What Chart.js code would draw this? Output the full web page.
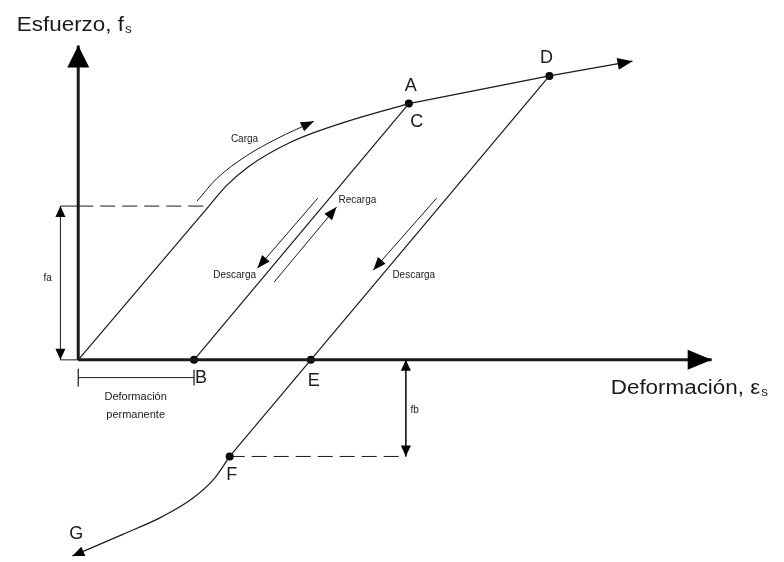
<!DOCTYPE html>
<html>
<head>
<meta charset="utf-8">
<script src="https://cdn.jsdelivr.net/npm/chart.js@4.4.1/dist/chart.umd.min.js"></script>
<style>
body { margin: 0; background: #fff; }
#wrap { width: 784px; height: 562px; }
</style>
</head>
<body>
<div id="wrap"><canvas id="myChart" width="784" height="562"></canvas></div>
<script>
// deformacion (x) y esfuerzo (y), origen en el cruce de los ejes
var ejeX = [[0, 0], [6.40, 0]];
var ejeY = [[0, 0], [0, 3.19]];
var tramoElastico = [[0, 0], [1.32, 1.56]];
var tramoCurvo = [[1.32, 1.56], [1.50, 1.77], [1.72, 1.96], [2.15, 2.21], [2.72, 2.42], [3.34, 2.60]];
var tramoFinal = [[3.34, 2.60], [4.76, 2.88], [5.60, 3.03]];
var descargaAB = [[3.34, 2.60], [1.17, 0]];
var descargaDF = [[4.76, 2.88], [2.35, 0], [1.53, -0.98]];
// ordenado de G a F (x creciente)
var compresionGF = [[-0.06, -1.99], [0.45, -1.77], [0.85, -1.59], [1.15, -1.41], [1.37, -1.21], [1.53, -0.98]];
var puntosX = [3.34, 1.17, 4.76, 2.35, 1.53];   // A, B, D, E, F
var puntosY = [2.60, 0, 2.88, 0, -0.98];
var fa = 1.56;
var fb = -0.98;

// flechas de recorrido
var flechaCarga = [[1.20, 1.61], [1.40, 1.84], [1.70, 2.07], [2.00, 2.24], [2.38, 2.42]];
var flechaDescarga1 = [[2.42, 1.64], [1.81, 0.93]];
var flechaRecarga = [[1.98, 0.79], [2.61, 1.55]];
var flechaDescarga2 = [[3.62, 1.64], [2.98, 0.91]];

var etiquetas = [
    {t: "Esfuerzo, f", s: "s", x: -0.62, y: 3.39, size: 20, align: "left", sx: 1.12},
    {t: "Deformación, ε", s: "s", x: 5.38, y: -0.29, size: 20, align: "left", sx: 1.12},
    {t: "A", x: 3.36, y: 2.78, size: 18},
    {t: "C", x: 3.42, y: 2.41, size: 18},
    {t: "D", x: 4.73, y: 3.06, size: 18},
    {t: "B", x: 1.24, y: -0.18, size: 18},
    {t: "E", x: 2.38, y: -0.21, size: 18},
    {t: "F", x: 1.55, y: -1.17, size: 18},
    {t: "G", x: -0.02, y: -1.77, size: 18},
    {t: "Carga", x: 1.68, y: 2.24, size: 10},
    {t: "Recarga", x: 2.82, y: 1.62, size: 10},
    {t: "Descarga", x: 1.58, y: 0.86, size: 10},
    {t: "Descarga", x: 3.39, y: 0.86, size: 10},
    {t: "fa", x: -0.31, y: 0.83, size: 10},
    {t: "fb", x: 3.40, y: -0.51, size: 10},
    {t: "Deformación", x: 0.58, y: -0.38, size: 11},
    {t: "permanente", x: 0.58, y: -0.56, size: 11}
];

function pts(a)
{
    return a.map(function(p) { return {x: p[0], y: p[1]}; });
}

function linea(a, ancho, extra)
{
    var d = {
        data: pts(a),
        borderColor: '#1a1a1a',
        borderWidth: ancho,
        pointRadius: 0,
        tension: 0,
        fill: false,
        clip: false
    };
    for (var k in extra) d[k] = extra[k];
    return d;
}

var curva = {tension: 0.4, cubicInterpolationMode: 'monotone'};
function conCurva(extra)
{
    var d = {tension: 0.4, cubicInterpolationMode: 'monotone'};
    for (var k in extra) d[k] = extra[k];
    return d;
}

var guion = [15, 7];
var datasets = [
    linea(ejeX, 3, {flechaFin: [24, 10]}),
    linea(ejeY, 3, {flechaFin: [22, 11]}),
    linea(tramoElastico, 1.2),
    linea(tramoCurvo, 1.2, curva),
    linea(tramoFinal, 1.2, {flechaFin: [15, 6]}),
    linea(descargaAB, 1.2),
    linea(descargaDF, 1.2),
    linea(compresionGF, 1.2, conCurva({flechaIni: [12, 5]})),
    linea(flechaCarga, 1, conCurva({flechaFin: [13, 5]})),
    linea(flechaDescarga1, 1, {flechaFin: [13, 5]}),
    linea(flechaRecarga, 1, {flechaFin: [13, 5]}),
    linea(flechaDescarga2, 1, {flechaFin: [13, 5]}),
    // cota fa
    linea([[-0.18, 0], [-0.18, fa]], 1, {flechaFin: [11, 5], flechaIni: [11, 5]}),
    linea([[-0.18, fa], [0, fa]], 1),
    linea([[-0.18, 0], [0, 0]], 1),
    linea([[0, fa], [1.32, fa]], 1, {borderDash: guion}),
    // cota fb
    linea([[3.31, 0], [3.31, fb]], 1, {flechaFin: [11, 5], flechaIni: [11, 5]}),
    linea([[1.53, fb], [3.31, fb]], 1, {borderDash: guion}),
    // deformacion permanente
    linea([[0, -0.18], [1.17, -0.18]], 1),
    linea([[0, -0.09], [0, -0.27]], 1.2),
    linea([[1.17, -0.10], [1.17, -0.26]], 1.2),
    {
        data: puntosX.map(function(v, i) { return {x: v, y: puntosY[i]}; }),
        showLine: false,
        pointRadius: 4,
        pointBackgroundColor: '#000',
        pointBorderWidth: 0,
        clip: false
    }
];

function punta(ctx, x, y, dx, dy, largo, ancho)
{
    var n = Math.sqrt(dx * dx + dy * dy);
    if (n == 0) return;
    dx /= n; dy /= n;
    var bx = x - dx * largo, by = y - dy * largo;
    ctx.beginPath();
    ctx.moveTo(x, y);
    ctx.lineTo(bx - dy * ancho, by + dx * ancho);
    ctx.lineTo(bx + dy * ancho, by - dx * ancho);
    ctx.closePath();
    ctx.fill();
}

var flechas = {
    id: 'flechas',
    afterDatasetsDraw: function(chart) {
        var ctx = chart.ctx;
        ctx.save();
        ctx.fillStyle = '#000';
        chart.data.datasets.forEach(function(ds, i) {
            var el = chart.getDatasetMeta(i).data;
            if (el.length < 2) return;
            if (ds.flechaFin) {
                var u = el[el.length - 1], p = el[el.length - 2];
                var ox = ds.tension && u.cp1x !== undefined ? u.cp1x : p.x;
                var oy = ds.tension && u.cp1y !== undefined ? u.cp1y : p.y;
                punta(ctx, u.x, u.y, u.x - ox, u.y - oy, ds.flechaFin[0], ds.flechaFin[1]);
            }
            if (ds.flechaIni) {
                var a = el[0], b = el[1];
                var qx = ds.tension && a.cp2x !== undefined ? a.cp2x : b.x;
                var qy = ds.tension && a.cp2y !== undefined ? a.cp2y : b.y;
                punta(ctx, a.x, a.y, a.x - qx, a.y - qy, ds.flechaIni[0], ds.flechaIni[1]);
            }
        });
        ctx.restore();
    }
};

var textos = {
    id: 'textos',
    afterDraw: function(chart) {
        var ctx = chart.ctx;
        var sx = chart.scales.x, sy = chart.scales.y;
        ctx.save();
        ctx.fillStyle = '#1a1a1a';
        ctx.textBaseline = 'middle';
        etiquetas.forEach(function(e) {
            var px = sx.getPixelForValue(e.x), py = sy.getPixelForValue(e.y);
            ctx.save();
            ctx.translate(px, py);
            ctx.scale(e.sx || 1, 1);
            ctx.font = e.size + 'px "Liberation Sans", Arial, sans-serif';
            ctx.textAlign = e.align || 'center';
            ctx.fillText(e.t, 0, 0);
            if (e.s) {
                var w = ctx.measureText(e.t).width;
                ctx.font = Math.round(e.size * 0.6) + 'px "Liberation Sans", Arial, sans-serif';
                ctx.textAlign = 'left';
                ctx.fillText(e.s, w + 1, e.size * 0.2);
            }
            ctx.restore();
        });
        ctx.restore();
    }
};

var myChart = new Chart(document.getElementById('myChart').getContext('2d'), {
    type: 'line',
    data: {datasets: datasets},
    options: {
        responsive: false,
        animation: false,
        devicePixelRatio: 1,
        layout: {padding: 0},
        plugins: {legend: {display: false}, tooltip: {enabled: false}},
        scales: {
            x: {type: 'linear', min: -0.75, max: 7.09, display: false},
            y: {type: 'linear', min: -2.01, max: 3.61, display: false}
        }
    },
    plugins: [flechas, textos]
});
</script>
</body>
</html>
